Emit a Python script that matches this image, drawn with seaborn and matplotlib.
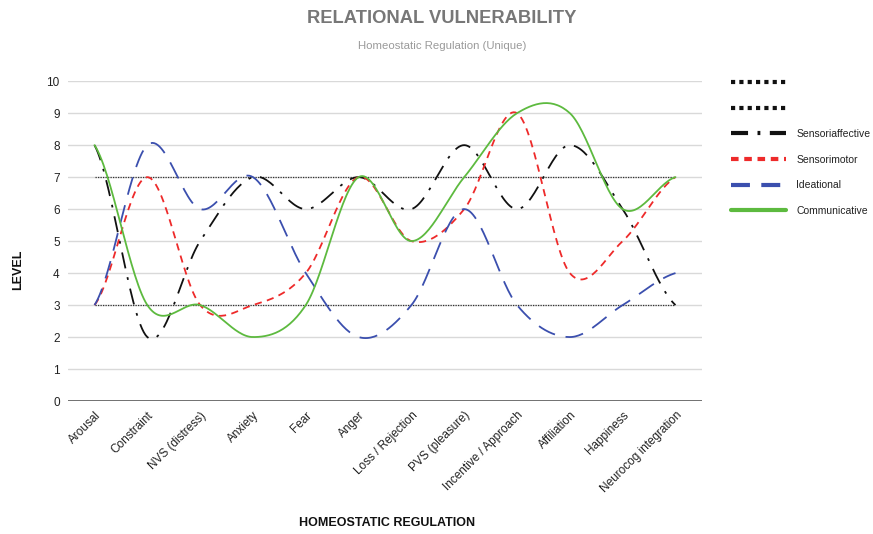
import numpy as np
import pandas as pd
import matplotlib
matplotlib.use("Agg")
import matplotlib.pyplot as plt
from matplotlib.lines import Line2D
import seaborn as sns

# data
categories = ["Arousal", "Constraint", "NVS (distress)", "Anxiety", "Fear", "Anger",
              "Loss / Rejection", "PVS (pleasure)", "Incentive / Approach", "Affiliation",
              "Happiness", "Neurocog integration"]
upper_ref = [7] * 12
lower_ref = [3] * 12
sensoriaffective = [8, 2, 5, 7, 6, 7, 6, 8, 6, 8, 6, 3]
sensorimotor = [3, 7, 3, 3, 4, 7, 5, 6, 9, 4, 5, 7]
ideational = [3, 8, 6, 7, 4, 2, 3, 6, 3, 2, 3, 4]
communicative = [8, 3, 3, 2, 3, 7, 5, 7, 9, 9, 6, 7]


def smooth(vals, n=30):
    # catmull-rom style curve through the points (like the "smooth line" option)
    v = np.asarray(vals, dtype=float)
    k = len(v)
    m = np.zeros(k)
    m[1:-1] = (v[2:] - v[:-2]) / 2
    m[0] = (v[1] - v[0]) / 2
    m[-1] = (v[-1] - v[-2]) / 2
    xs, ys = [], []
    for i in range(k - 1):
        t = np.linspace(0, 1, n, endpoint=(i == k - 2))
        h00 = 2 * t**3 - 3 * t**2 + 1
        h10 = t**3 - 2 * t**2 + t
        h01 = -2 * t**3 + 3 * t**2
        h11 = t**3 - t**2
        xs.append(i + t)
        ys.append(h00 * v[i] + h10 * m[i] + h01 * v[i + 1] + h11 * m[i + 1])
    return np.concatenate(xs), np.concatenate(ys)


sns.set_style("white")
plt.rcParams["font.family"] = ["Liberation Sans", "DejaVu Sans"]

fig = plt.figure(figsize=(8.73, 5.34), dpi=100)
ax = fig.add_axes([0.078, 0.249, 0.726, 0.599])

for y in range(1, 11):
    ax.axhline(y, color="#d9d9d9", lw=1, zorder=0)
ax.axhline(0, color="#666666", lw=1.3, zorder=1)

x = np.arange(len(categories))
sns.lineplot(x=x, y=upper_ref, ax=ax, color="#333333", lw=0.9, linestyle=(0, (1, 1)))
sns.lineplot(x=x, y=lower_ref, ax=ax, color="#333333", lw=0.9, linestyle=(0, (1, 1)))

series = [
    ("Sensoriaffective", sensoriaffective, "#111111", (0, (9, 5, 1.5, 5))),
    ("Sensorimotor", sensorimotor, "#ee2a2a", (0, (4, 3))),
    ("Ideational", ideational, "#3b4fae", (0, (10, 6))),
    ("Communicative", communicative, "#5dba3f", "-"),
]
for name, vals, col, ls in series:
    sx, sy = smooth(vals)
    sns.lineplot(x=sx, y=sy, ax=ax, color=col, lw=1.3, linestyle=ls, sort=False)

ax.set_xlim(-0.5, 11.5)
ax.set_ylim(0, 10)
ax.set_yticks(range(0, 11))
ax.set_yticklabels([str(i) for i in range(0, 11)], fontsize=8.5, color="#222222")
ax.set_xticks(x)
ax.set_xticklabels(categories, rotation=45, ha="right", rotation_mode="anchor",
                   fontsize=8.5, color="#222222")
ax.tick_params(length=0, pad=6)
for s in ax.spines.values():
    s.set_visible(False)

ax.set_xlabel("")
ax.set_ylabel("")
fig.text(0.021, 0.495, "LEVEL", rotation=90, fontsize=9, fontweight="bold",
         ha="center", va="center", color="#111111")
fig.text(0.443, 0.021, "HOMEOSTATIC REGULATION", fontsize=9, fontweight="bold",
         ha="center", va="center", color="#111111")

fig.text(0.506, 0.965, "RELATIONAL VULNERABILITY", fontsize=13.2, fontweight="bold",
         ha="center", va="center", color="#777777")
fig.text(0.506, 0.913, "Homeostatic Regulation (Unique)", fontsize=8.2,
         ha="center", va="center", color="#9a9a9a")

handles = [
    Line2D([], [], color="#111111", lw=3, linestyle=(0, (1, 1))),
    Line2D([], [], color="#111111", lw=3, linestyle=(0, (1, 1))),
]
labels = ["", ""]
for name, vals, col, ls in series:
    if ls == "-":
        hls = "-"
    else:
        off, pat = ls
        hls = (0, tuple(p / 2.2 for p in pat))
    handles.append(Line2D([], [], color=col, lw=3, linestyle=hls))
    labels.append(name)

leg = fig.legend(handles, labels, loc="upper left", bbox_to_anchor=(0.832, 0.862),
                 frameon=False, fontsize=7.5, handlelength=5.3, handletextpad=1.0,
                 labelspacing=1.5, borderaxespad=0)
for t in leg.get_texts():
    t.set_color("#222222")

fig.savefig("out.png", dpi=100)
